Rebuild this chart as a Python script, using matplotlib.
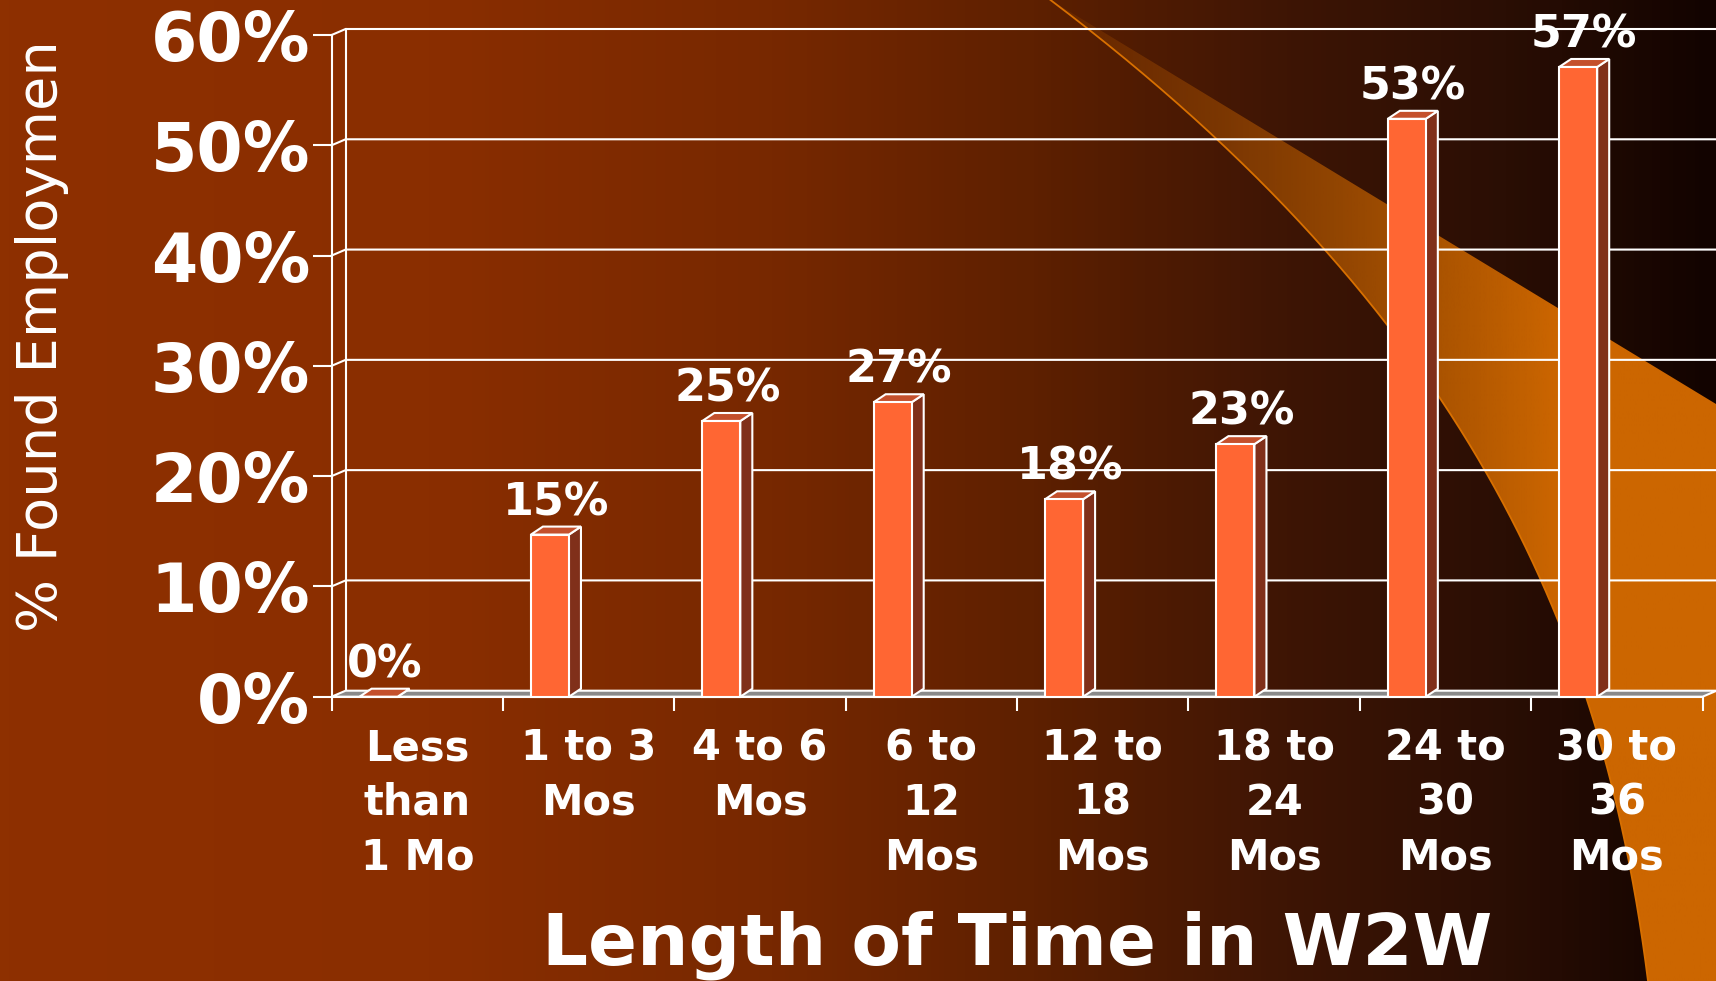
import matplotlib.pyplot as plt
import numpy as np
from matplotlib.patches import Polygon
from matplotlib.colors import LinearSegmentedColormap
from matplotlib.transforms import Bbox, TransformedBbox

# chart data
categories = ['Less\nthan\n1 Mo', '1 to 3\nMos', '4 to 6\nMos', '6 to\n12\nMos',
              '12 to\n18\nMos', '18 to\n24\nMos', '24 to\n30\nMos', '30 to\n36\nMos']
found_pct = [0, 14.7, 25.0, 26.7, 17.9, 22.9, 52.4, 57.1]
value_labels = ['0%', '15%', '25%', '27%', '18%', '23%', '53%', '57%']
y_ticks = [0, 10, 20, 30, 40, 50, 60]
y_tick_labels = ['0%', '10%', '20%', '30%', '40%', '50%', '60%']
x_title = 'Length of Time in W2W'
y_title = '% Found Employment'

W, H = 1716, 981
fig = plt.figure(figsize=(W / 100, H / 100), dpi=100)

# background: rust to near black, left to right
bg = fig.add_axes([0, 0, 1, 1], zorder=0)
bg.axis('off')
bg.set_xlim(0, W)
bg.set_ylim(H, 0)
bg_cmap = LinearSegmentedColormap.from_list('bg', [
    (0.0, '#8e3000'), (0.25, '#8a2e00'), (0.45, '#772800'), (0.6, '#5e2000'),
    (0.75, '#3e1505'), (0.88, '#2a0e04'), (1.0, '#120300')])
bg.imshow(np.linspace(0, 1, 400)[None, :], extent=(0, W, H, 0), aspect='auto', cmap=bg_cmap)

# orange swoosh on the right
edge_y = np.array([0, 37, 137, 247, 323, 403, 500, 613, 700, 800, 900, 981])
edge_x = np.array([1048, 1100, 1218, 1320, 1387, 1438, 1502, 1558, 1590, 1613, 1633, 1650])
yy = np.linspace(0, H, 200)
xx = np.polyval(np.polyfit(edge_y, edge_x, 3), yy)
verts = [(xx[0], 0), (W, 404), (W, H)] + list(zip(xx[::-1], yy[::-1]))
swoosh = Polygon(verts, closed=True, fc='none', ec='none')
bg.add_patch(swoosh)
gx = np.linspace(1000, W, 300)
alpha = np.clip(0.15 + (gx - 1080) / 560, 0, 1)
rgba = np.zeros((2, 300, 4))
rgba[..., 0] = 0xcc / 255
rgba[..., 1] = 0x66 / 255
rgba[..., 3] = alpha[None, :]
im = bg.imshow(rgba, extent=(1000, W, H, 0), aspect='auto')
im.set_clip_path(swoosh)
bg.plot(xx, yy, color='#d87000', lw=1.3)
bg.set_xlim(0, W)
bg.set_ylim(H, 0)

# main chart, front plane
ax = fig.add_axes([331.6 / W, (H - 696.7) / H, 1371 / W, 661.7 / H], zorder=1)
ax.set_facecolor('none')
ax.set_xlim(0, len(categories))
ax.set_ylim(0, 60)

n = len(categories)
dxw, dyw = 14 / 171.375, 6 / 11.028   # back wall offset
dxb, dyb = 12 / 171.375, 8 / 11.028   # bar depth

for v in y_ticks[1:]:
    ax.plot([0, dxw, n + dxw], [v, v + dyw, v + dyw], color='white', lw=1.5,
            clip_on=False, zorder=1)
ax.plot([dxw, dxw], [dyw, 60 + dyw], color='white', lw=1.5, clip_on=False, zorder=1)

floor = Polygon([(0, 0), (n, 0), (n + dxw, dyw), (dxw, dyw)], closed=True,
                fc='#8a8a8a', ec='white', lw=1.5, zorder=2, clip_on=False)
ax.add_patch(floor)

bars = ax.bar(np.arange(n) + 0.163, found_pct, width=0.222, align='edge',
              color='#ff6633', edgecolor='white', lw=1.5, zorder=5, clip_on=False)
for b, lbl in zip(bars, value_labels):
    x0, w, h = b.get_x(), b.get_width(), b.get_height()
    side = Polygon([(x0 + w, 0), (x0 + w + dxb, dyb), (x0 + w + dxb, h + dyb), (x0 + w, h)],
                   closed=True, fc='#80301a', ec='white', lw=1.5, zorder=4, clip_on=False)
    top = Polygon([(x0, h), (x0 + w, h), (x0 + w + dxb, h + dyb), (x0 + dxb, h + dyb)],
                  closed=True, fc='#c4502c', ec='white', lw=1.5, zorder=4, clip_on=False)
    ax.add_patch(side)
    ax.add_patch(top)
    ax.annotate(lbl, (x0 + w / 2 + dxb / 2, h), xytext=(0, 14), textcoords='offset points',
                ha='center', va='baseline', fontsize=32, fontweight='bold', color='white',
                zorder=6, annotation_clip=False)

for s in ['top', 'right']:
    ax.spines[s].set_visible(False)
for s in ['left', 'bottom']:
    ax.spines[s].set_color('white')
    ax.spines[s].set_linewidth(1.5)

ax.set_yticks(y_ticks)
ax.set_yticklabels(y_tick_labels, fontsize=48, fontweight='bold', color='white')
ax.tick_params(axis='y', length=14, width=1.5, color='white', pad=1.5)

ax.set_xticks(range(n + 1))
ax.set_xticklabels([])
ax.tick_params(axis='x', which='major', length=10, width=1.5, color='white')
ax.set_xticks(np.arange(n) + 0.5, minor=True)
ax.set_xticklabels(categories, minor=True, fontsize=30, fontweight='bold', color='white',
                   linespacing=1.38)
ax.tick_params(axis='x', which='minor', length=0, pad=22)

fig.text((331.6 + 1702.6) / 2 / W, (H - 965) / H, x_title, ha='center', va='baseline',
         fontsize=52, fontweight='bold', color='white')

yt = fig.text(42 / W, (H - 632) / H, y_title, rotation=90, ha='center', va='bottom',
              fontsize=40.2, color='white')
yt.set_clip_box(TransformedBbox(Bbox([[0, 0], [1, (H - 46) / H]]), fig.transFigure))
yt.set_clip_on(True)

fig.savefig('out.png', dpi=100)
